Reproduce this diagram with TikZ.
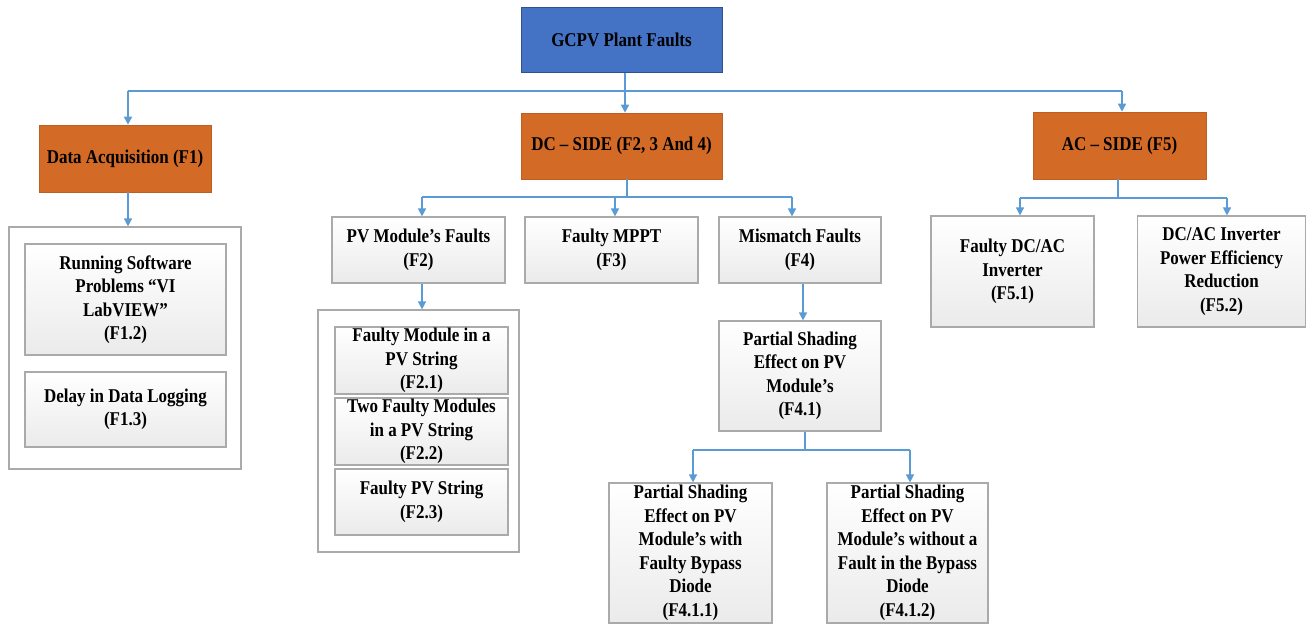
\documentclass[tikz,border=0pt]{standalone}
\usepackage{fontspec}
\setmainfont{Liberation Serif}[FakeStretch=0.87]
\usetikzlibrary{arrows.meta}
\definecolor{lineblue}{RGB}{91,155,213}
\definecolor{rootblue}{RGB}{68,114,196}
\definecolor{rootedge}{RGB}{47,82,143}
\definecolor{orangefill}{RGB}{211,106,38}
\definecolor{boxedge}{RGB}{170,170,170}
\begin{document}
\begin{tikzpicture}[x=1pt,y=-1pt,
  every node/.style={font=\fontsize{19.5}{23.5}\selectfont\bfseries, align=center, inner sep=0pt},
  rootbox/.style={draw=rootedge, fill=rootblue, line width=1pt},
  sidebox/.style={draw=orangefill!90!black, fill=orangefill, line width=0.6pt},
  leafbox/.style={draw=boxedge, line width=1.2pt, top color=white, bottom color=black!8},
  groupbox/.style={draw=boxedge, line width=1.2pt, fill=white},
  wire/.style={draw=lineblue, line width=1.5pt},
  arr/.style={wire, -{Triangle[width=8pt,length=8pt]}},
]
\useasboundingbox (0,0) rectangle (1306,624);

% top level
\node[rootbox, minimum width=201pt, minimum height=65pt] (root) at (621.5,39.5) {GCPV Plant Faults};
\node[sidebox, minimum width=172pt, minimum height=67pt] (f1) at (125,158.5) {Data Acquisition (F1)};
\node[sidebox, minimum width=201pt, minimum height=66pt] (dc) at (621.5,146) {DC -- SIDE (F2, 3 And 4)};
\node[sidebox, minimum width=173pt, minimum height=67pt] (ac) at (1119.5,145.5) {AC -- SIDE (F5)};

% F1 group
\node[groupbox, minimum width=232pt, minimum height=242pt] (c1) at (125,348) {};
\node[leafbox, minimum width=201pt, minimum height=111pt] (f12) at (125.5,299.5) {Running Software\\Problems “VI\\LabVIEW”\\(F1.2)};
\node[leafbox, minimum width=201pt, minimum height=75pt] (f13) at (125.5,409.5) {Delay in Data Logging\\(F1.3)};

% DC side
\node[leafbox, minimum width=173pt, minimum height=66pt] (f2) at (418.5,250) {PV Module’s Faults\\(F2)};
\node[leafbox, minimum width=173pt, minimum height=66pt] (f3) at (611.5,250) {Faulty MPPT\\(F3)};
\node[leafbox, minimum width=162pt, minimum height=66pt] (f4) at (800,250) {Mismatch Faults\\(F4)};

\node[groupbox, minimum width=201pt, minimum height=242pt] (c2) at (418.5,431) {};
\node[leafbox, minimum width=173pt, minimum height=67pt] (f21) at (421.5,360.5) {Faulty Module in a\\PV String\\(F2.1)};
\node[leafbox, minimum width=173pt, minimum height=67pt] (f22) at (421.5,431.5) {Two Faulty Modules\\in a PV String\\(F2.2)};
\node[leafbox, minimum width=173pt, minimum height=66pt] (f23) at (421.5,502) {Faulty PV String\\(F2.3)};

\node[leafbox, minimum width=162pt, minimum height=110pt] (f41) at (800,376) {Partial Shading\\Effect on PV\\Module’s\\(F4.1)};
\node[leafbox, minimum width=163pt, minimum height=140pt] (f411) at (690.5,553) {Partial Shading\\Effect on PV\\Module’s with\\Faulty Bypass\\Diode\\(F4.1.1)};
\node[leafbox, minimum width=161pt, minimum height=140pt] (f412) at (907.5,553) {Partial Shading\\Effect on PV\\Module’s without a\\Fault in the Bypass\\Diode\\(F4.1.2)};

% AC side
\node[leafbox, minimum width=163pt, minimum height=111pt] (f51) at (1012.5,271.5) {Faulty DC/AC\\Inverter\\(F5.1)};
\node[leafbox, minimum width=168pt, minimum height=111pt] (f52) at (1221.5,271.5) {DC/AC Inverter\\Power Efficiency\\Reduction\\(F5.2)};

% connectors: top bus
\coordinate (busL) at (128,91);
\coordinate (busR) at (1122,91);
\coordinate (busM) at (625,91);
\draw[wire] (busL) -- (busR);
\draw[arr] (root.south -| busM) -- (dc.north -| busM);
\draw[arr] (busL) -- (busL |- f1.north);
\draw[arr] (busR) -- (busR |- ac.north);
\draw[arr] (f1.south -| busL) -- (c1.north -| busL);

% DC bus
\coordinate (dcb) at (627,197);
\coordinate (dcL) at (422,197);
\coordinate (dcM) at (615,197);
\coordinate (dcR) at (792,197);
\draw[wire] (dc.south -| dcb) -- (dcb);
\draw[wire] (dcL) -- (dcR);
\draw[arr] (dcL) -- (dcL |- f2.north);
\draw[arr] (dcM) -- (dcM |- f3.north);
\draw[arr] (dcR) -- (dcR |- f4.north);
\draw[arr] (f2.south -| dcL) -- (c2.north -| dcL);
\coordinate (x41) at (803,0);
\draw[arr] (f4.south -| x41) -- (f41.north -| x41);

% F4.1 bus
\coordinate (sb) at (805,450);
\coordinate (sL) at (693,450);
\coordinate (sR) at (910,450);
\draw[wire] (f41.south -| sb) -- (sb);
\draw[wire] (sL) -- (sR);
\draw[arr] (sL) -- (sL |- f411.north);
\draw[arr] (sR) -- (sR |- f412.north);

% AC bus
\coordinate (ab) at (1118,198);
\coordinate (aL) at (1020,198);
\coordinate (aR) at (1227,198);
\draw[wire] (ac.south -| ab) -- (ab);
\draw[wire] (aL) -- (aR);
\draw[arr] (aL) -- (aL |- f51.north);
\draw[arr] (aR) -- (aR |- f52.north);
\end{tikzpicture}
\end{document}
